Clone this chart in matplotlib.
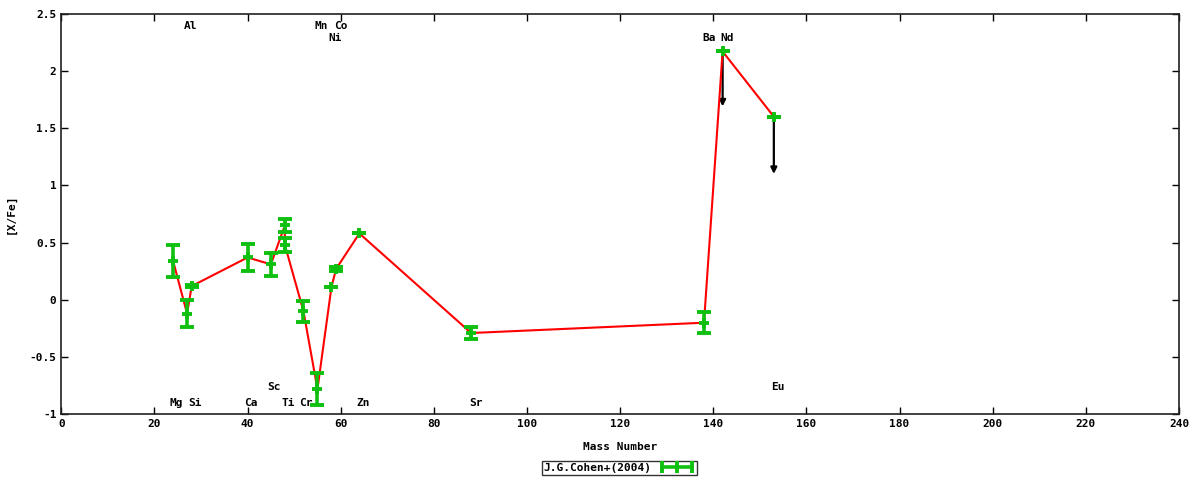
import matplotlib
matplotlib.use("Agg")
import matplotlib.pyplot as plt
from matplotlib.lines import Line2D
from matplotlib.ticker import MultipleLocator, FuncFormatter

# ---- data ----
mass = [24, 27, 28, 40, 45, 48, 48, 52, 55, 58, 59, 64, 88, 138, 142, 153]
xfe = [0.34, -0.12, 0.12, 0.37, 0.31, 0.65, 0.48, -0.10, -0.78, 0.11, 0.27,
       0.58, -0.29, -0.20, 2.17, 1.60]
xfe_err = [0.14, 0.12, 0.01, 0.12, 0.10, 0.06, 0.06, 0.09, 0.14, 0.0, 0.02,
           0.0, 0.05, 0.09, 0.0, 0.0]

# upper limits (arrows)
limit_mass = [142, 153]
limit_from = [2.17, 1.60]
limit_to = [1.69, 1.10]

# element labels
label_top = ["Al", "Mn", "Co", "Ni", "Ba", "Nd"]
label_top_x = [27.7, 55.8, 60.1, 58.9, 139.1, 142.9]
label_top_y = [2.39, 2.39, 2.39, 2.285, 2.285, 2.285]
label_bot = ["Mg", "Si", "Ca", "Sc", "Ti", "Cr", "Zn", "Sr", "Eu"]
label_bot_x = [24.7, 28.6, 40.8, 45.7, 48.7, 52.6, 64.9, 89.0, 153.9]
label_bot_y = [-0.905, -0.905, -0.905, -0.762, -0.905, -0.905, -0.905, -0.905, -0.762]

legend_label = "J.G.Cohen+(2004)"

green = "#10c010"
font = dict(family="DejaVu Sans Mono", weight="bold", size=8)

fig = plt.figure(figsize=(12, 4.8), dpi=100)
ax = fig.add_axes([0.0511, 0.1369, 0.9314, 0.8346])

ax.plot(mass, xfe, color="red", lw=1.5, zorder=2)
ax.errorbar(mass, xfe, yerr=xfe_err, fmt="+", color=green, ms=7.5, mew=2.8,
            elinewidth=2.6, capsize=5, capthick=2.8, zorder=3)

for xm, y0, y1 in zip(limit_mass, limit_from, limit_to):
    ax.annotate("", xy=(xm, y1), xytext=(xm, y0),
                arrowprops=dict(arrowstyle="-|>", color="black", lw=1.6,
                                mutation_scale=9, shrinkA=0, shrinkB=0),
                zorder=1)

for t, xx, yy in zip(label_top, label_top_x, label_top_y):
    ax.text(xx, yy, t, ha="center", va="center", fontdict=font)
for t, xx, yy in zip(label_bot, label_bot_x, label_bot_y):
    ax.text(xx, yy, t, ha="center", va="center", fontdict=font)

ax.set_xlim(0, 240)
ax.set_ylim(-1, 2.5)
ax.xaxis.set_major_locator(MultipleLocator(20))
ax.yaxis.set_major_locator(MultipleLocator(0.5))
ax.yaxis.set_major_formatter(FuncFormatter(lambda v, p: "%g" % v))
ax.tick_params(direction="in", length=5, width=1, top=True, right=True,
               labelsize=8)
for lab in ax.get_xticklabels() + ax.get_yticklabels():
    lab.set_fontfamily("DejaVu Sans Mono")
    lab.set_fontweight("bold")
for s in ax.spines.values():
    s.set_linewidth(1.2)
    s.set_color("#202020")

ax.set_xlabel("Mass Number", fontdict=font, labelpad=9.5)
ax.set_ylabel("[X/Fe]", fontdict=font, labelpad=10)

handle = Line2D([], [], color=green, lw=2.6, marker="|", ms=8, mew=2.8)
leg = fig.legend([handle], [legend_label], loc="center",
                 bbox_to_anchor=(0.516, 0.025), numpoints=3, markerfirst=False,
                 prop=dict(family="DejaVu Sans Mono", weight="bold", size=8),
                 frameon=True, fancybox=False, borderpad=0.15,
                 handlelength=3.3, handletextpad=0.6, borderaxespad=0)
leg.get_frame().set_edgecolor("black")
leg.get_frame().set_linewidth(1.0)

fig.savefig("out.png", dpi=100)
